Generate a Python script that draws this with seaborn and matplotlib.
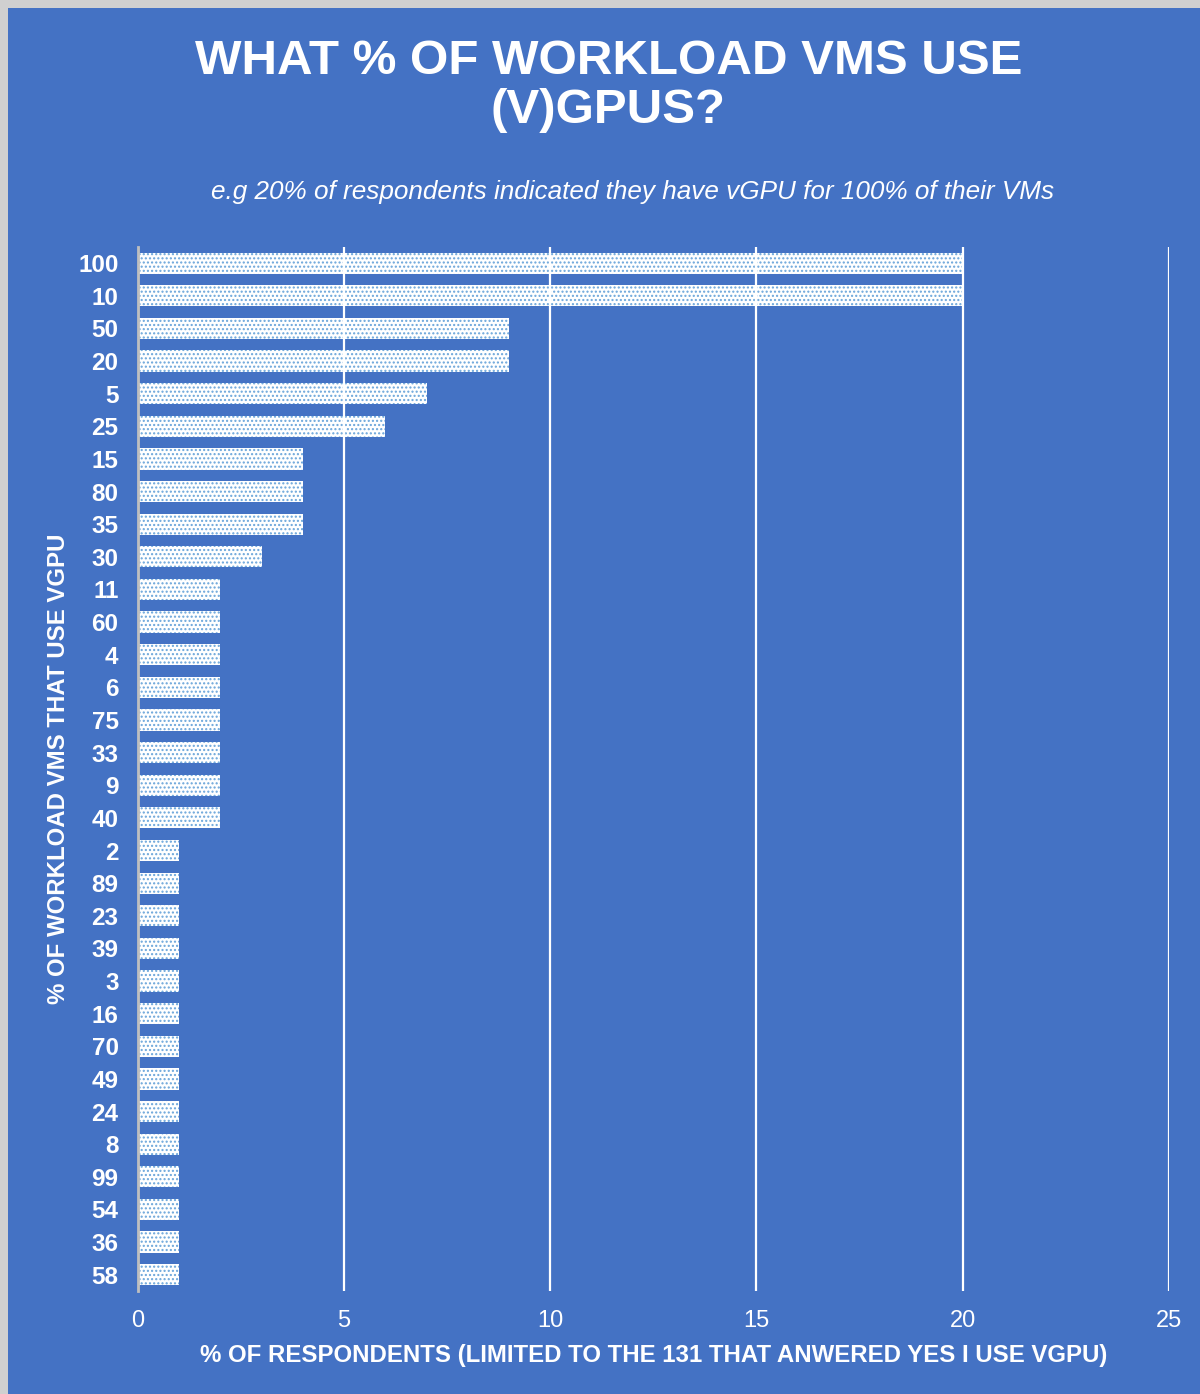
import numpy as np
import pandas as pd
import matplotlib
matplotlib.use("Agg")
import matplotlib.pyplot as plt
import seaborn as sns
from matplotlib.patches import Rectangle

# -------------- Data ------------------

vm_share = ["100", "10", "50", "20", "5", "25", "15", "80", "35", "30",
            "11", "60", "4", "6", "75", "33", "9", "40",
            "2", "89", "23", "39", "3", "16", "70", "49", "24", "8",
            "99", "54", "36", "58"]
respondents = [20, 20, 9, 9, 7, 6, 4, 4, 4, 3,
               2, 2, 2, 2, 2, 2, 2, 2,
               1, 1, 1, 1, 1, 1, 1, 1, 1, 1,
               1, 1, 1, 1]
x_ticks = [0, 5, 10, 15, 20, 25]

df = pd.DataFrame({"vms": vm_share, "pct": respondents})

# -------------- Style ------------------

blue = "#4472C4"
dot_blue = "#6aa5da"

sns.set_theme(style="white")
plt.rcParams["font.family"] = ["Liberation Sans", "DejaVu Sans"]
plt.rcParams["hatch.linewidth"] = 1.0

fig = plt.figure(figsize=(12, 13.94), dpi=100, facecolor="#d0d0d0")
# blue panel (thin grey frame left / top like the screenshot)
fig.patches.append(Rectangle((8 / 1200, 0), 1, 1 - 8 / 1394,
                             transform=fig.transFigure, facecolor=blue,
                             edgecolor="none", zorder=-5))

ax = fig.add_axes([0.115, 0.0739, 0.859, 0.749])
ax.set_facecolor(blue)

sns.barplot(data=df, x="pct", y="vms", order=vm_share, orient="h",
            color="white", width=0.65, saturation=1, ax=ax)

for bar in ax.patches:
    bar.set_facecolor("white")
    bar.set_edgecolor(dot_blue)
    bar.set_linewidth(0)
    bar.set_hatch("....")
    bar.set_zorder(2)

# -------------- Axes ------------------

ax.set_xlim(0, 25)
ax.set_xticks(x_ticks)
ax.xaxis.grid(True, color="white", linewidth=1.6)
ax.yaxis.grid(False)
ax.set_axisbelow(False)
for s in ["top", "right", "bottom"]:
    ax.spines[s].set_visible(False)
ax.spines["left"].set_color("#bfbfbf")
ax.spines["left"].set_linewidth(2)
ax.spines["left"].set_zorder(4)

ax.tick_params(axis="x", length=0, pad=14, labelsize=17, labelcolor="white")
ax.tick_params(axis="y", length=0, pad=14, labelsize=17.5, labelcolor="white")
for lab in ax.get_yticklabels():
    lab.set_fontweight("bold")

ax.set_xlabel("% OF RESPONDENTS (LIMITED TO THE 131 THAT ANWERED YES I USE VGPU)",
              color="white", fontsize=17.3, fontweight="bold", labelpad=8)
ax.set_ylabel("% OF WORKLOAD VMS THAT USE VGPU",
              color="white", fontsize=17.3, fontweight="bold", labelpad=6)

# -------------- Titles ------------------

fig.text(0.507, 0.972, "WHAT % OF WORKLOAD VMS USE\n(V)GPUS?", ha="center", va="top",
         color="white", fontsize=35.5, fontweight="bold", linespacing=1.12)
fig.text(0.527, 0.862, "e.g 20% of respondents indicated they have vGPU for 100% of their VMs",
         ha="center", va="center", color="white", fontsize=18.8, fontstyle="italic")

fig.savefig("out.png", dpi=100, facecolor=fig.get_facecolor())
